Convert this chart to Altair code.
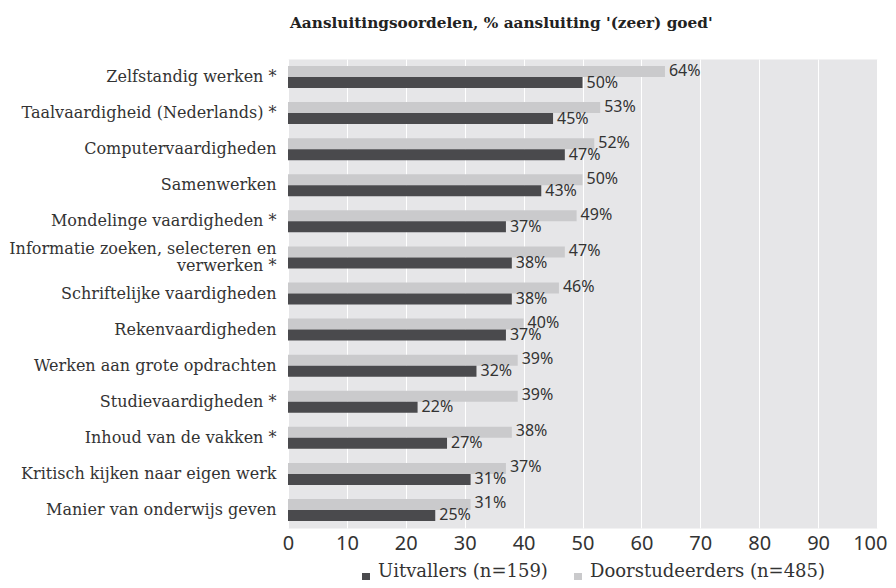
import altair as alt
import pandas as pd

categories = [
    "Zelfstandig werken *",
    "Taalvaardigheid (Nederlands) *",
    "Computervaardigheden",
    "Samenwerken",
    "Mondelinge vaardigheden *",
    "Informatie zoeken, selecteren en|verwerken *",
    "Schriftelijke vaardigheden",
    "Rekenvaardigheden",
    "Werken aan grote opdrachten",
    "Studievaardigheden *",
    "Inhoud van de vakken *",
    "Kritisch kijken naar eigen werk",
    "Manier van onderwijs geven",
]
doorstudeerders = [64, 53, 52, 50, 49, 47, 46, 40, 39, 39, 38, 37, 31]
uitvallers = [50, 45, 47, 43, 37, 38, 38, 37, 32, 22, 27, 31, 25]

series_names = ["Uitvallers (n=159)", "Doorstudeerders (n=485)"]
series_colors = ["#4a4a4d", "#cacacc"]

rows = []
for c, d, u in zip(categories, doorstudeerders, uitvallers):
    rows.append({"cat": c, "series": series_names[1], "value": d, "label": f"{d}%"})
    rows.append({"cat": c, "series": series_names[0], "value": u, "label": f"{u}%"})
df = pd.DataFrame(rows)

y_enc = alt.Y(
    "cat:N",
    sort=categories,
    scale=alt.Scale(paddingInner=0.39, paddingOuter=0.195),
    axis=alt.Axis(
        title=None,
        ticks=False,
        domain=False,
        labelFont="DejaVu Serif",
        labelFontSize=16,
        labelColor="#333333",
        labelPadding=12,
        labelLimit=500,
        labelLineHeight=17,
        labelExpr="split(datum.label, '|')",
        labelOffset={"condition": {"test": "indexof(datum.value, '|') >= 0", "value": -8}, "value": 0},
    ),
)
yoff = alt.YOffset("series:N", sort=[series_names[1], series_names[0]])
x_enc = alt.X(
    "value:Q",
    scale=alt.Scale(domain=[0, 100], nice=False),
    axis=alt.Axis(
        title=None,
        values=list(range(0, 101, 10)),
        ticks=False,
        domain=False,
        grid=True,
        gridColor="#ffffff",
        gridWidth=1,
        labelFont="Noto Sans",
        labelFontSize=20,
        labelColor="#333333",
        labelPadding=5,
        labelFlush=False,
        labelAlign={"condition": {"test": "datum.value == 100", "value": "right"}, "value": "center"},
        labelOffset={"condition": {"test": "datum.value == 100", "value": 10}, "value": 0},
    ),
)

base = alt.Chart(df)

bars = base.mark_bar(size=11).encode(
    y=y_enc,
    yOffset=yoff,
    x=x_enc,
    color=alt.Color(
        "series:N",
        scale=alt.Scale(domain=series_names, range=series_colors),
        legend=alt.Legend(
            title=None,
            orient="none",
            legendX=69,
            legendY=509,
            direction="horizontal",
            symbolType="square",
            symbolSize=64,
            symbolStrokeWidth=0,
            labelFont="DejaVu Serif",
            labelFontSize=18,
            labelColor="#333333",
            labelBaseline="alphabetic",
            labelOffset=3,
            columnPadding=21,
            labelLimit=400,
        ),
    ),
)

text_d = base.transform_filter(alt.datum.series == series_names[1]).mark_text(
    align="left", baseline="middle", dx=4, dy=-1, font="Noto Sans", fontSize=16, color="#333333"
).encode(y=y_enc, yOffset=yoff, x=x_enc, text="label:N")

text_u = base.transform_filter(alt.datum.series == series_names[0]).mark_text(
    align="left", baseline="middle", dx=4, dy=0, font="Noto Sans", fontSize=16, color="#333333"
).encode(y=y_enc, yOffset=yoff, x=x_enc, text="label:N")

chart = (
    alt.layer(bars, text_d, text_u)
    .properties(
        width=589,
        height=469,
        autosize="none",
        background="#ffffff",
        padding={"left": 280, "top": 51, "right": 11, "bottom": 52},
        title=alt.TitleParams(
            "Aansluitingsoordelen, % aansluiting '(zeer) goed'",
            anchor="start",
            frame="group",
            dx=2,
            font="DejaVu Serif",
            fontWeight="bold",
            fontSize=15.3,
            color="#222222",
            offset=28,
        ),
    )
    .configure_view(fill="#e6e6e8", stroke="transparent")
)

chart.save("out.html", embed_options={"renderer": "svg", "actions": False})
